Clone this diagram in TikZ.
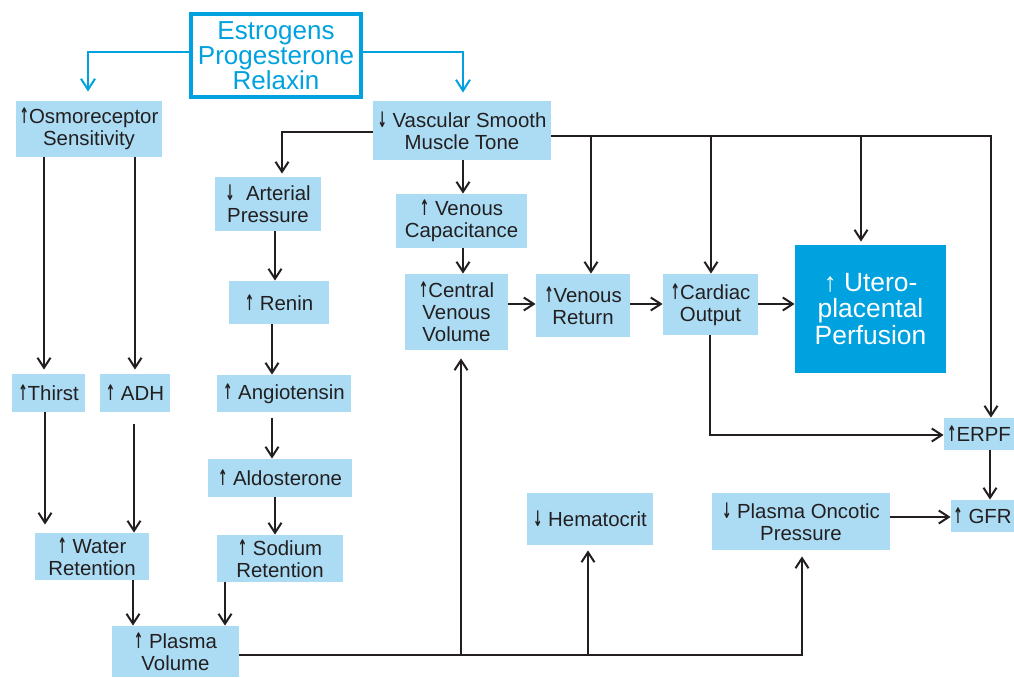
\documentclass[tikz,border=0pt]{standalone}
\usepackage{fontspec}
\setmainfont{Liberation Sans}
\newfontfamily\arrowfont{DejaVu Sans}
\usetikzlibrary{arrows.meta}
\definecolor{PregBox}{HTML}{ABDCF4}
\definecolor{PregCyan}{HTML}{00A1DF}
\definecolor{PregInk}{HTML}{231F20}
\newcommand{\incr}{\scalebox{0.55}[1.05]{\arrowfont\bfseries ↑}}
\newcommand{\decr}{\scalebox{0.55}[1.05]{\arrowfont\bfseries ↓}}

\begin{document}
\begin{tikzpicture}[x=0.5pt,y=-0.5pt,
    box/.style={fill=PregBox,text=PregInk,inner sep=1pt,align=center,font=\fontsize{10.2}{11}\selectfont},
    link/.style={PregInk,line width=1pt,-{Straight Barb[length=5pt,width=6.5pt]}},
    hormlink/.style={PregCyan,line width=1pt,-{Straight Barb[length=5.5pt,width=7pt]}}]
  \useasboundingbox (0,0) rectangle (1014,678);
  \node[draw=PregCyan,line width=2pt,fill=white,text=PregCyan,minimum width=85pt,minimum height=41.5pt,
    align=center,font=\fontsize{13}{12.5}\selectfont] (hormones) at (276,55.5) {Estrogens\\Progesterone\\Relaxin};
  \node[box,minimum width=73pt,minimum height=28pt] (osmo) at (89,129) {\incr Osmoreceptor\\Sensitivity};
  \node[box,minimum width=89pt,minimum height=29.5pt] (vsmt) at (462,130.5) {\decr{} Vascular Smooth\\Muscle Tone};
  \node[box,minimum width=53pt,minimum height=27pt] (artp) at (268,204) {\decr{} \ Arterial\\Pressure};
  \node[box,minimum width=65.5pt,minimum height=27pt] (vcap) at (461.5,221) {\incr{} Venous\\Capacitance};
  \node[box,minimum width=50pt,minimum height=21.5pt] (renin) at (279,302.5) {\incr{} Renin};
  \node[box,minimum width=51.5pt,minimum height=38pt] (cvv) at (456.5,312) {\incr Central\\Venous\\Volume};
  \node[box,minimum width=47pt,minimum height=31.5pt] (vret) at (583,305.5) {\incr Venous\\Return};
  \node[box,minimum width=47.5pt,minimum height=30.5pt] (cout) at (710.5,304.5) {\incr Cardiac\\Output};
  \node[fill=PregCyan,text=white,minimum width=75.5pt,minimum height=64pt,align=center,
    font=\fontsize{13.2}{13.3}\selectfont] (utero) at (870.5,309) {↑ Utero-\\placental\\Perfusion};
  \node[box,minimum width=36.5pt,minimum height=19pt] (thirst) at (48.5,393) {\incr Thirst};
  \node[box,minimum width=35pt,minimum height=19pt] (adh) at (135,393) {\incr{} ADH};
  \node[box,minimum width=67pt,minimum height=18.5pt] (angio) at (284,393.5) {\incr{} Angiotensin};
  \node[box,minimum width=72pt,minimum height=19pt] (aldo) at (280,478) {\incr{} Aldosterone};
  \node[box,minimum width=57pt,minimum height=23.5pt] (water) at (92,556.5) {\incr{} Water\\Retention};
  \node[box,minimum width=63pt,minimum height=23.5pt] (sodium) at (280,558.5) {\incr{} Sodium\\Retention};
  \node[box,minimum width=63.5pt,minimum height=25.5pt] (plasma) at (175.5,651.5) {\incr{} Plasma\\Volume};
  \node[box,minimum width=63pt,minimum height=26pt] (hemat) at (590,519) {\decr{} Hematocrit};
  \node[box,minimum width=89pt,minimum height=28.5pt] (oncotic) at (801,521.5) {\decr{} Plasma Oncotic\\Pressure};
  \node[box,minimum width=35pt,minimum height=16pt] (erpf) at (979,434) {\incr ERPF};
  \node[box,minimum width=31.5pt,minimum height=16pt] (gfr) at (982.5,516) {\incr{} GFR};
  \coordinate (tonebus) at (vsmt.east |- 0,136);
  \coordinate (plasmabus) at (plasma.east |- 0,655);

  \draw[hormlink,shorten >=4.5pt] (hormones.west |- 0,52) -| (osmo.north -| 88,0);
  \draw[hormlink,shorten >=4pt] (hormones.east |- 0,52) -| (vsmt.north -| 463,0);

  \draw[link,shorten >=1.5pt] (vsmt.west |- 0,132) -| (artp.north -| 282,0);
  \draw[link] (vsmt.south -| 463,0) -- (vcap.north -| 463,0);
  \draw[link] (tonebus) -| (erpf.north -| 991,0);
  \draw[link] (tonebus -| 591,0) -- (vret.north -| 591,0);
  \draw[link] (tonebus -| 711,0) -- (cout.north -| 711,0);
  \draw[link,shorten >=1.5pt] (tonebus -| 861,0) -- (utero.north -| 861,0);

  \draw[link,shorten >=2pt] (osmo.south -| 44,0) -- (thirst.north -| 44,0);
  \draw[link,shorten >=2pt] (osmo.south -| 135,0) -- (adh.north -| 135,0);
  \draw[link,shorten >=4pt] (thirst.south -| 45,0) -- (water.north -| 45,0);
  \draw[link,shorten <=6pt] (adh.south -| 134,0) -- (water.north -| 134,0);
  \draw[link] (water.south -| 133,0) -- (plasma.north -| 133,0);
  \draw[link] (sodium.south -| 225,0) -- (plasma.north -| 225,0);

  \draw[link] (artp.south -| 275,0) -- (renin.north -| 275,0);
  \draw[link] (renin.south -| 272,0) -- (angio.north -| 272,0);
  \draw[link,shorten <=3pt] (angio.south -| 272,0) -- (aldo.north -| 272,0);
  \draw[link] (aldo.south -| 275,0) -- (sodium.north -| 275,0);

  \draw[link] (vcap.south -| 463,0) -- (cvv.north -| 463,0);
  \draw[link] (cvv.east |- 0,304) -- (vret.west |- 0,304);
  \draw[link] (vret.east |- 0,304) -- (cout.west |- 0,304);
  \draw[link] (cout.east |- 0,304) -- (utero.west |- 0,304);
  \draw[link] (cout.south -| 710,0) |- (erpf.west |- 0,435);
  \draw[link] (erpf.south -| 990,0) -- (gfr.north -| 990,0);
  \draw[link] (oncotic.east |- 0,517) -- (gfr.west |- 0,517);

  \draw[link,shorten >=3pt] (plasmabus) -| (oncotic.south -| 802,0);
  \draw[link,shorten >=4pt] (plasmabus -| 461,0) -- (cvv.south -| 461,0);
  \draw[link,shorten >=2.5pt] (plasmabus -| 588,0) -- (hemat.south -| 588,0);
\end{tikzpicture}
\end{document}
